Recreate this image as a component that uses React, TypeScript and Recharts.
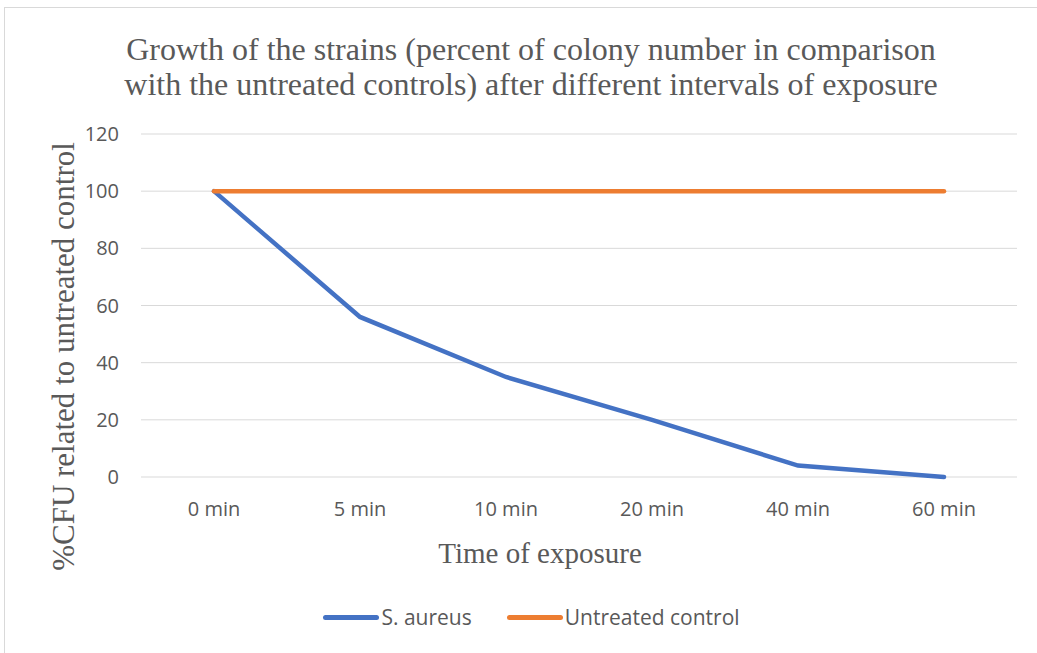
import { CartesianGrid, Label, Legend, Line, LineChart, XAxis, YAxis } from "recharts";

const times = ["0 min", "5 min", "10 min", "20 min", "40 min", "60 min"];
const sAureus = [100, 56, 35, 20, 4, 0];
const untreated = [100, 100, 100, 100, 100, 100];
const yTicks = [0, 20, 40, 60, 80, 100, 120];

const data = times.map((t, i) => ({ time: t, sa: sAureus[i], ctrl: untreated[i] }));

const textGray = "#595959";

function LegendBox({ payload }: any) {
  return (
    <div style={{ display: "flex", justifyContent: "center", gap: 35, paddingLeft: 46, fontFamily: "'Open Sans', sans-serif", fontSize: 21, color: textGray }}>
      {(payload || []).map((p: any) => (
        <div key={p.value} style={{ display: "flex", alignItems: "center" }}>
          <span style={{ display: "inline-block", width: 56, height: 5, borderRadius: 3, background: p.color, marginRight: 2 }} />
          <span>{p.value}</span>
        </div>
      ))}
    </div>
  );
}

export default function App() {
  return (
    <div style={{ position: "absolute", left: 0, top: 0, width: 1037, height: 653, background: "#fff", overflow: "hidden" }}>
      <div style={{ position: "absolute", left: 4, top: 7, width: 1040, height: 660, border: "1px solid #d9d9d9" }} />
      <div
        style={{
          position: "absolute",
          left: 0,
          top: 32,
          width: 1062,
          textAlign: "center",
          fontFamily: "'Liberation Serif', serif",
          fontSize: 32,
          lineHeight: "35px",
          color: textGray,
        }}
      >
        Growth of the strains (percent of colony number in comparison
        <br />
        with the untreated controls) after different intervals of exposure
      </div>
      <LineChart width={1037} height={653} data={data} margin={{ top: 134, right: 20, bottom: 58, left: 0 }} style={{ position: "absolute", left: 0, top: 0 }}>
        <CartesianGrid vertical={false} stroke="#d9d9d9" strokeWidth={1} />
        <XAxis
          dataKey="time"
          scale="band"
          axisLine={false}
          tickLine={false}
          height={90}
          tick={{ fill: textGray, fontSize: 20, fontFamily: "'Open Sans', sans-serif" }}
          tickMargin={19}
        >
          <Label
            value="Time of exposure"
            position="insideTop"
            offset={65}
            dx={-39}
            style={{ fill: textGray, fontSize: 29, fontFamily: "'Liberation Serif', serif" }}
          />
        </XAxis>
        <YAxis
          width={141}
          domain={[0, 120]}
          ticks={yTicks}
          axisLine={false}
          tickLine={false}
          tickMargin={16}
          tick={{ fill: textGray, fontSize: 20, fontFamily: "'Open Sans', sans-serif" }}
        >
          <Label
            value="%CFU related to untreated control"
            angle={-90}
            position="center"
            dx={-8}
            dy={51}
            style={{ fill: textGray, fontSize: 31, fontFamily: "'Liberation Serif', serif", textAnchor: "middle" }}
          />
        </YAxis>
        <Legend verticalAlign="bottom" content={<LegendBox />} wrapperStyle={{ bottom: 22 }} />
        <Line dataKey="sa" name="S. aureus" stroke="#4472c4" strokeWidth={4.5} dot={false} isAnimationActive={false} strokeLinecap="round" />
        <Line dataKey="ctrl" name="Untreated control" stroke="#ed7d31" strokeWidth={4.5} dot={false} isAnimationActive={false} strokeLinecap="round" />
      </LineChart>
    </div>
  );
}
